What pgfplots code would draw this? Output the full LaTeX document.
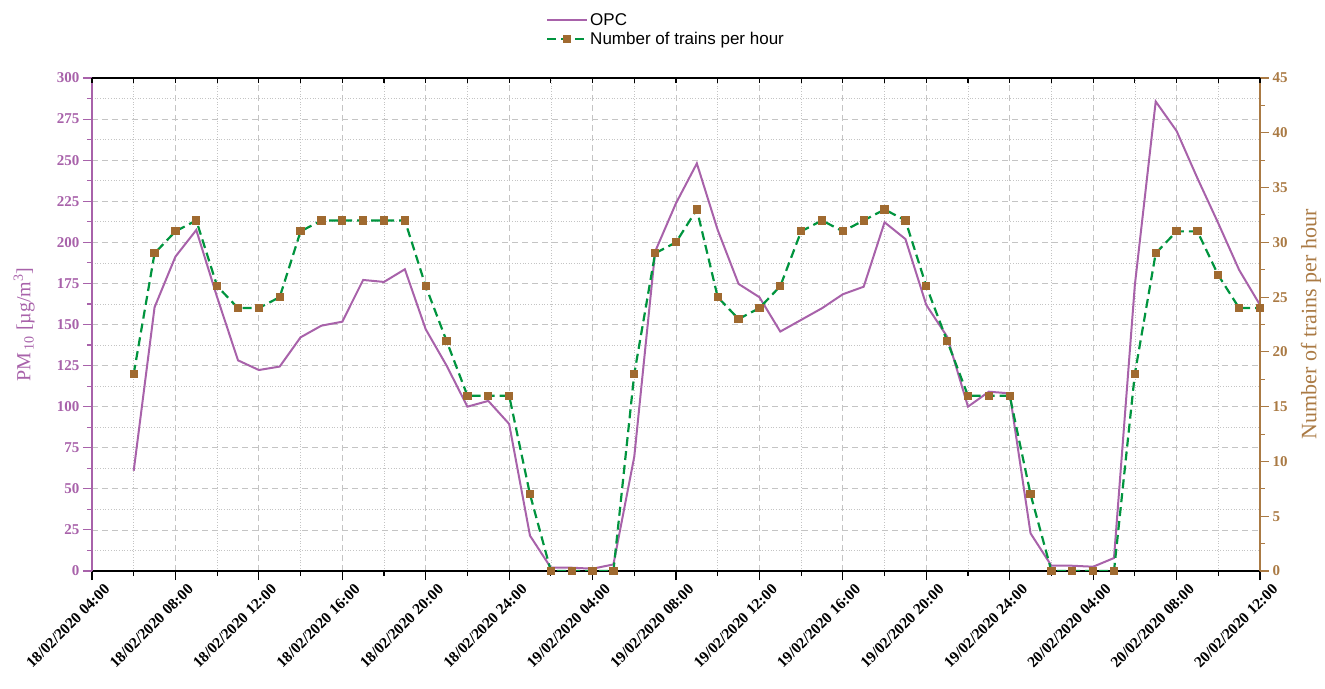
\documentclass[border=0pt]{standalone}
\usepackage{pgfplots}
\usepackage{pgfplotstable}
\pgfplotsset{compat=1.18}
\usepackage{fontspec}
\setmainfont{Liberation Serif}
\newfontfamily\legendfont{Liberation Sans}

\definecolor{opc}{RGB}{168,98,170}
\definecolor{traingreen}{RGB}{0,148,62}
\definecolor{trainmark}{RGB}{160,106,48}
\definecolor{rbrown}{RGB}{170,122,68}
\definecolor{gridgray}{RGB}{196,196,196}

% hours counted from 18/02/2020 04:00
\pgfplotstableread{
h opc
2 61
3 160.5
4 191.3
5 207.5
6 166.6
7 128.2
8 122.3
9 124.4
10 142.2
11 149.3
12 151.7
13 177.1
14 175.9
15 183.6
16 147.1
17 125
18 100
19 103.5
20 89.5
21 21.5
22 2
23 2
24 1.4
25 4
26 69.6
27 194.4
28 223.8
29 248
30 207.5
31 174.7
32 166.6
33 145.7
34 152.8
35 159.9
36 168.4
37 173
38 212.2
39 202
40 161.9
41 142.6
42 100
43 109.1
44 108.1
45 22.9
46 3.2
47 3.2
48 2.6
49 7.9
50 174
51 285.7
52 267.8
53 239
54 211.6
55 183.2
56 161.9
}\opcdata

\pgfplotstableread{
h trains
2 18
3 29
4 31
5 32
6 26
7 24
8 24
9 25
10 31
11 32
12 32
13 32
14 32
15 32
16 26
17 21
18 16
19 16
20 16
21 7
22 0
23 0
24 0
25 0
26 18
27 29
28 30
29 33
30 25
31 23
32 24
33 26
34 31
35 32
36 31
37 32
38 33
39 32
40 26
41 21
42 16
43 16
44 16
45 7
46 0
47 0
48 0
49 0
50 18
51 29
52 31
53 31
54 27
55 24
56 24
}\traindata

\pgfplotsset{
  base/.style={
    width=1168bp, height=493bp, scale only axis,
    xmin=0, xmax=56, xtick={0,4,...,56}, minor x tick num=1,
    axis line style={-, line width=1.3bp},
    tick style={line width=1.1bp},
    /pgf/number format/assume math mode=true,
  },
  tickfont/.style={font=\bfseries\fontsize{15bp}{17bp}\selectfont},
}

\begin{document}
\begin{tikzpicture}
% left axis: PM10 from the OPC
\begin{axis}[base,
  ymin=0, ymax=300, ytick={0,25,...,300}, minor y tick num=1,
  axis x line*=bottom, axis y line*=left,
  x axis line style={black}, y axis line style={opc},
  tick align=outside, major tick length=9bp, minor tick length=5bp,
  xtick style={draw=black}, ytick style={draw=opc},
  grid=both,
  major grid style={draw=gridgray, line width=0.8bp, dash pattern=on 6bp off 4bp},
  minor grid style={draw=gridgray, line width=0.7bp, dotted},
  yticklabel style={tickfont, text=opc},
  xticklabels={18/02/2020 04:00,18/02/2020 08:00,18/02/2020 12:00,18/02/2020 16:00,18/02/2020 20:00,18/02/2020 24:00,19/02/2020 04:00,19/02/2020 08:00,19/02/2020 12:00,19/02/2020 16:00,19/02/2020 20:00,19/02/2020 24:00,20/02/2020 04:00,20/02/2020 08:00,20/02/2020 12:00},
  xticklabel style={font=\bfseries\fontsize{15.5bp}{17bp}\selectfont, rotate=45, anchor=north east,
    inner sep=1bp, xshift=7bp, yshift=-9bp},
  ylabel={PM\textsubscript{\,10} [µg/m\textsuperscript{3}]},
  every axis y label/.style={at={(axis description cs:-0.058,0.5)}, anchor=center, rotate=90,
    font=\fontsize{20bp}{22bp}\selectfont, text=opc},
]
\addplot[opc, line width=2bp] table[x=h, y=opc] {\opcdata};
\end{axis}

% right axis: number of trains per hour
\begin{axis}[base,
  ymin=0, ymax=45, ytick={0,5,...,45}, minor y tick num=1,
  axis y line*=right, hide x axis,
  y axis line style={rbrown},
  tick align=outside, major tick length=9bp, minor tick length=5bp,
  ytick style={draw=rbrown},
  yticklabel style={tickfont, text=rbrown},
  ylabel={Number of trains per hour},
  every axis y label/.style={at={(axis description cs:1.0437,0.5)}, anchor=center, rotate=90,
    font=\fontsize{22bp}{24bp}\selectfont, text=rbrown},
  legend style={at={(axis description cs:0.386,1)}, anchor=south west, yshift=28bp,
    draw=none, fill=none, font=\legendfont\fontsize{17bp}{20bp}\selectfont,
    cells={anchor=west}, row sep=1bp},
  legend image code/.code={\draw[mark repeat=2, mark phase=2, #1] plot coordinates {(0bp,0bp) (20bp,0bp) (40bp,0bp)};},
]
\addlegendimage{opc, line width=2bp, mark=none}
\addlegendentry{OPC}
\addplot[traingreen, line width=2.2bp, dash pattern=on 9bp off 5bp,
  mark=square*, mark size=3bp, mark options={solid, fill=trainmark, draw=trainmark}]
  table[x=h, y=trains] {\traindata};
\addlegendentry{Number of trains per hour}
\end{axis}

% top frame with inward ticks
\begin{axis}[base,
  ymin=0, ymax=1, axis x line*=top, hide y axis,
  x axis line style={black}, xtick style={draw=black},
  xticklabels={}, tick align=inside, major tick length=5bp, minor tick length=5bp,
]
\end{axis}

\pgfresetboundingbox
\path (-92bp,-118bp) rectangle (1233bp,571bp);
\end{tikzpicture}
\end{document}
